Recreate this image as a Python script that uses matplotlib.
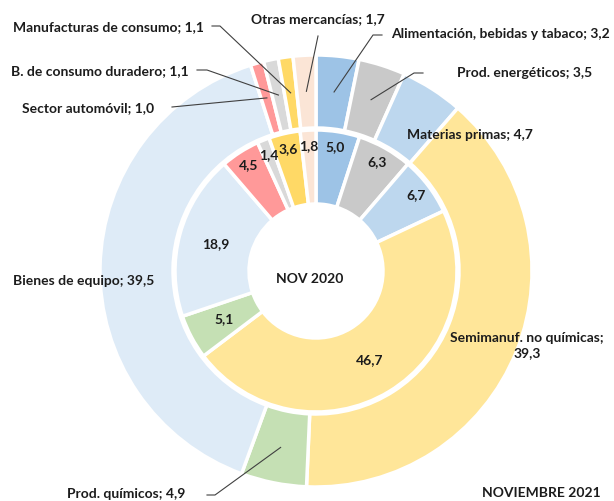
import numpy as np
import matplotlib.pyplot as plt

# categorias (orden horario desde las 12)
categorias = ['Alimentación, bebidas y tabaco', 'Prod. energéticos', 'Materias primas',
              'Semimanuf. no químicas', 'Prod. químicos', 'Bienes de equipo',
              'Sector automóvil', 'B. de consumo duradero', 'Manufacturas de consumo',
              'Otras mercancías']
nov_2021 = [3.2, 3.5, 4.7, 39.3, 4.9, 39.5, 1.0, 1.1, 1.1, 1.7]
nov_2020 = [5.0, 6.3, 6.7, 46.7, 5.1, 18.9, 4.5, 1.4, 3.6, 1.8]
colores = ['#9DC3E6', '#C9C9C9', '#BDD7EE', '#FFE699', '#C5E0B4', '#DEEBF7',
           '#FF9999', '#D9D9D9', '#FFD966', '#FBE5D6']

plt.rcParams['font.family'] = ['Lato', 'DejaVu Sans']
TXT = '#1c1c1c'
FS = 10

# geometria en pixeles de la referencia
CX, CY, R = 316, 271, 216


def px(x, y):
    return (x - CX) / R, (CY - y) / R


def fmt(v):
    return f'{v:.1f}'.replace('.', ',')


def centros(vals):
    tot = sum(vals)
    cum = np.cumsum([0] + list(vals[:-1]))
    return np.radians(90 - 360 * (cum + np.array(vals) / 2) / tot)


fig = plt.figure(figsize=(6.14, 5.01), dpi=100)
ax = fig.add_axes([(CX - R) / 614, (501 - CY - R) / 501, 2 * R / 614, 2 * R / 501])

ax.pie(nov_2021, radius=1.0, startangle=90, counterclock=False, colors=colores,
       wedgeprops=dict(width=(216 - 143) / R, edgecolor='white', linewidth=2.5))
ax.pie(nov_2020, radius=141 / R, startangle=90, counterclock=False, colors=colores,
       wedgeprops=dict(width=(141 - 67) / R, edgecolor='white', linewidth=2.5))
ax.set_xlim(-1, 1)
ax.set_ylim(-1, 1)

# etiquetas anillo interior
for v, a in zip(nov_2020, centros(nov_2020)):
    r = 0.58 if (v < 8 and np.sin(a) > 0.3) else 0.48
    ax.text(r * np.cos(a), r * np.sin(a), fmt(v), ha='center', va='center',
            fontsize=FS, fontweight='bold', color=TXT)

ax.text(*px(310, 279), 'NOV 2020', ha='center', va='center', fontsize=FS,
        fontweight='bold', color=TXT)
ax.text(*px(541, 493), 'NOVIEMBRE 2021', ha='center', va='center', fontsize=FS,
        fontweight='bold', color=TXT)

# etiquetas anillo exterior: (texto x, y, alineacion, codo)
layout = {
    'Alimentación, bebidas y tabaco': ((391, 34), 'left', [(382, 35), (373, 35)]),
    'Prod. energéticos': ((457, 73), 'left', [(423, 73), (414, 73)]),
    'Materias primas': ((470, 135), 'center', None),
    'Semimanuf. no químicas': ((527, 346), 'center', None),
    'Prod. químicos': ((185, 494), 'right', [(207, 495), (215, 495)]),
    'Bienes de equipo': ((154, 281), 'right', None),
    'Sector automóvil': ((154, 108), 'right', [(172, 107)]),
    'B. de consumo duradero': ((189, 71), 'right', [(197, 70), (207, 70)]),
    'Manufacturas de consumo': ((204, 27), 'right', [(212, 26), (220, 26)]),
    'Otras mercancías': ((318, 19), 'center', [(318, 36)]),
}

for cat, v, a in zip(categorias, nov_2021, centros(nov_2021)):
    (tx, ty), ha, codo = layout[cat]
    sep = ';\n' if cat == 'Semimanuf. no químicas' else '; '
    ax.text(*px(tx, ty), f'{cat}{sep}{fmt(v)}', ha=ha, va='center', fontsize=FS,
            fontweight='bold', color=TXT, linespacing=1.3)
    if codo:
        xs = [px(*p)[0] for p in codo] + [0.833 * np.cos(a)]
        ys = [px(*p)[1] for p in codo] + [0.833 * np.sin(a)]
        ax.plot(xs, ys, color='#404040', lw=0.8, clip_on=False)

fig.savefig('out.png', dpi=100, facecolor='white')
